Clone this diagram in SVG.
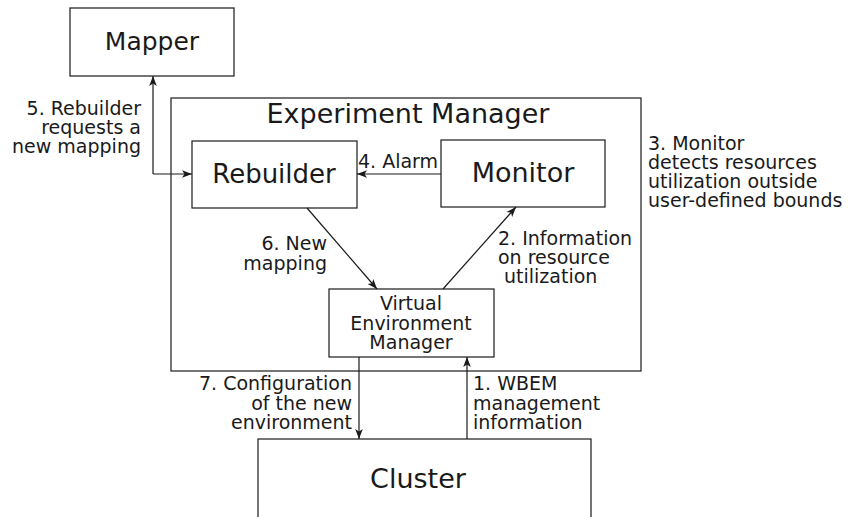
<svg xmlns="http://www.w3.org/2000/svg" width="848" height="517" viewBox="0 0 848 517">
<defs>
<marker id="ah" viewBox="0 0 10 10" refX="10" refY="5" markerWidth="10" markerHeight="10" markerUnits="userSpaceOnUse" orient="auto">
<path d="M0,1.2 L10,5 L0,8.8 L2.5,5 Z" fill="#1a1a1a"/>
</marker>
</defs>
<style>
.box{fill:#fff;stroke:#1a1a1a;stroke-width:1.2}
.big{font-family:"DejaVu Sans",sans-serif;font-size:26px;fill:#1a1a1a}
.lbl{font-family:"DejaVu Sans",sans-serif;font-size:19px;fill:#1a1a1a}
.c{stroke:#1a1a1a;stroke-width:1.2;fill:none}
</style>
<rect width="848" height="517" fill="#fff"/>
<g id="mapper"><rect class="box" x="70" y="8" width="164" height="68"/><text class="big" x="152" y="50" text-anchor="middle" style="font-size:25px">Mapper</text></g>
<g id="experiment-manager"><rect class="box" x="171" y="98" width="470" height="273"/><text class="big" x="408" y="123" text-anchor="middle" style="font-size:27px">Experiment Manager</text></g>
<g id="rebuilder"><rect class="box" x="192" y="141" width="165" height="67"/><text class="big" x="274" y="183" text-anchor="middle">Rebuilder</text></g>
<g id="monitor"><rect class="box" x="441" y="140" width="164" height="67"/><text class="big" x="523" y="182" text-anchor="middle" style="font-size:27px">Monitor</text></g>
<g id="vem"><rect class="box" x="329" y="289" width="165" height="68"/><text class="lbl" text-anchor="middle"><tspan x="411" y="310">Virtual</tspan><tspan x="411" y="330">Environment</tspan><tspan x="411" y="349">Manager</tspan></text></g>
<g id="cluster"><rect class="box" x="258" y="439" width="333" height="90"/><text class="big" x="418" y="488" text-anchor="middle" style="font-size:27px">Cluster</text></g>
<g id="connectors">
<path class="c" d="M153,174 L153,76" marker-end="url(#ah)"/>
<path class="c" d="M153,174 L192,174" marker-end="url(#ah)"/>
<path class="c" d="M441,174 L357,174" marker-end="url(#ah)"/>
<path class="c" d="M307,208 L377,289" marker-end="url(#ah)"/>
<path class="c" d="M443,289 L516,207" marker-end="url(#ah)"/>
<path class="c" d="M359,357 L359,439" marker-end="url(#ah)"/>
<path class="c" d="M467,439 L467,357" marker-end="url(#ah)"/>
</g>
<g id="labels">
<text class="lbl" text-anchor="end"><tspan x="141" y="115">5. Rebuilder</tspan><tspan x="141" y="134">requests a</tspan><tspan x="141" y="153">new mapping</tspan></text>
<text class="lbl" x="358" y="168">4. Alarm</text>
<text class="lbl"><tspan x="648" y="150">3. Monitor</tspan><tspan x="648" y="169">detects resources</tspan><tspan x="648" y="188">utilization outside</tspan><tspan x="648" y="207">user-defined bounds</tspan></text>
<text class="lbl" text-anchor="end"><tspan x="327" y="250">6. New</tspan><tspan x="327" y="270">mapping</tspan></text>
<text class="lbl"><tspan x="498" y="245">2. Information</tspan><tspan x="498" y="264">on resource</tspan><tspan x="504" y="283">utilization</tspan></text>
<text class="lbl" text-anchor="end"><tspan x="352" y="390">7. Configuration</tspan><tspan x="352" y="410">of the new</tspan><tspan x="352" y="429">environment</tspan></text>
<text class="lbl"><tspan x="473" y="390">1. WBEM</tspan><tspan x="473" y="410">management</tspan><tspan x="473" y="429">information</tspan></text>
</g>
</svg>
